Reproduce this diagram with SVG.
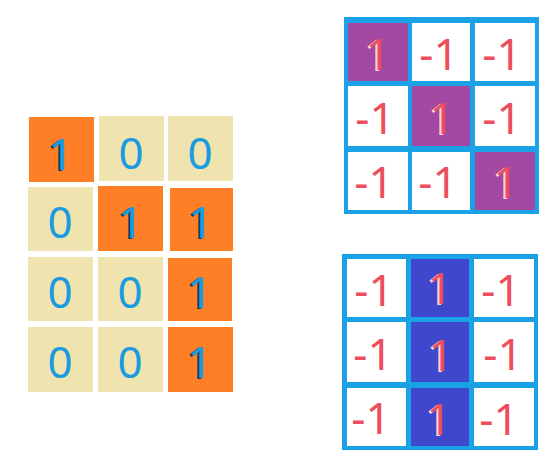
<svg xmlns="http://www.w3.org/2000/svg" width="553" height="470" viewBox="0 0 553 470">
<defs>
<filter id="sd" x="-20%" y="-20%" width="140%" height="140%"><feDropShadow dx="-2" dy="1" stdDeviation="0" flood-color="#1F3A57" flood-opacity="1"/></filter>
<filter id="sl" x="-20%" y="-20%" width="140%" height="140%"><feDropShadow dx="-2" dy="1" stdDeviation="0" flood-color="#FBD2D6" flood-opacity="1"/></filter>
</defs>
<style>
.or{fill:#FF7F27}
.bg{fill:#EFE4B0}
.wh{fill:#FFFFFF}
.pu{fill:#A349A4}
.db{fill:#3F48CC}
.fr{fill:#1AA1E6}
.t{font-family:"Noto Sans","Open Sans",sans-serif;font-size:44px;text-anchor:middle}
.bl{fill:#1A9BE0}
.rd{fill:#EE4E5C}
.ds{filter:url(#sd)}
.ls{filter:url(#sl)}
</style>
<rect width="553" height="470" fill="#FFFFFF"/>
<g id="matrix-left">
<rect class="or" x="29" y="117" width="65" height="65"/>
<rect class="bg" x="99" y="116" width="65" height="65"/>
<rect class="bg" x="168" y="116" width="65" height="65"/>
<rect class="bg" x="28" y="187" width="65" height="64"/>
<rect class="or" x="98" y="186" width="65" height="65"/>
<rect class="or" x="170" y="188" width="63" height="63"/>
<rect class="bg" x="28" y="257" width="65" height="64"/>
<rect class="bg" x="98" y="257" width="65" height="64"/>
<rect class="or" x="168" y="258" width="64" height="63"/>
<rect class="bg" x="28" y="327" width="65" height="65"/>
<rect class="bg" x="98" y="327" width="65" height="65"/>
<rect class="or" x="168" y="327" width="65" height="65"/>
<text class="t bl ds" x="61" y="170">1</text>
<text class="t bl" x="131" y="169">0</text>
<text class="t bl" x="200" y="169">0</text>
<text class="t bl" x="60" y="238">0</text>
<text class="t bl ds" x="131" y="238">1</text>
<text class="t bl ds" x="201" y="238">1</text>
<text class="t bl" x="60" y="308">0</text>
<text class="t bl" x="130" y="308">0</text>
<text class="t bl ds" x="200" y="308">1</text>
<text class="t bl" x="60" y="378">0</text>
<text class="t bl" x="130" y="378">0</text>
<text class="t bl ds" x="200" y="378">1</text>
</g>
<g id="filter-diagonal">
<rect class="fr" x="344" y="17" width="195" height="197"/>
<rect class="pu" x="348" y="23" width="60" height="58"/>
<rect class="wh" x="412" y="23" width="58" height="58"/>
<rect class="wh" x="475" y="23" width="60" height="58"/>
<rect class="wh" x="348" y="86" width="60" height="60"/>
<rect class="pu" x="412" y="86" width="58" height="60"/>
<rect class="wh" x="475" y="86" width="60" height="60"/>
<rect class="wh" x="348" y="152" width="60" height="58"/>
<rect class="wh" x="412" y="152" width="58" height="58"/>
<rect class="pu" x="475" y="152" width="60" height="58"/>
<text class="t rd ls" x="378" y="70">1</text>
<text class="t rd" x="439" y="70">-1</text>
<text class="t rd" x="502" y="70">-1</text>
<text class="t rd" x="375" y="134">-1</text>
<text class="t rd ls" x="442" y="134">1</text>
<text class="t rd" x="502" y="134">-1</text>
<text class="t rd" x="374" y="198">-1</text>
<text class="t rd" x="438" y="198">-1</text>
<text class="t rd ls" x="506" y="198">1</text>
</g>
<g id="filter-vertical">
<rect class="fr" x="342" y="254" width="196" height="196"/>
<rect class="wh" x="347" y="259" width="59" height="58"/>
<rect class="db" x="411" y="259" width="58" height="58"/>
<rect class="wh" x="474" y="259" width="60" height="58"/>
<rect class="wh" x="347" y="322" width="59" height="60"/>
<rect class="db" x="411" y="322" width="58" height="60"/>
<rect class="wh" x="474" y="322" width="60" height="60"/>
<rect class="wh" x="347" y="388" width="59" height="58"/>
<rect class="db" x="411" y="388" width="58" height="58"/>
<rect class="wh" x="474" y="388" width="60" height="58"/>
<text class="t rd" x="374" y="306">-1</text>
<text class="t rd ls" x="440" y="304">1</text>
<text class="t rd" x="501" y="306">-1</text>
<text class="t rd" x="373" y="370">-1</text>
<text class="t rd ls" x="441" y="371">1</text>
<text class="t rd" x="503" y="370">-1</text>
<text class="t rd" x="371" y="434">-1</text>
<text class="t rd ls" x="439" y="435">1</text>
<text class="t rd" x="499" y="435">-1</text>
</g>
</svg>
